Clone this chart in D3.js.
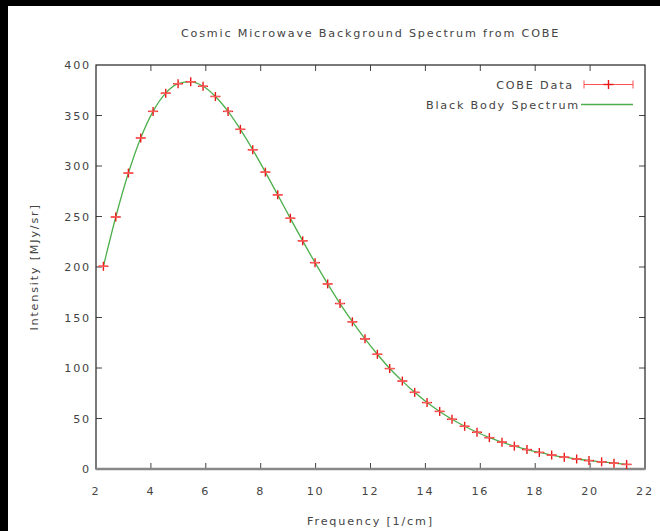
<!DOCTYPE html>
<html>
<head>
<meta charset="utf-8">
<script src="https://cdn.jsdelivr.net/npm/d3@7/dist/d3.min.js"></script>
<style>
  html, body { margin: 0; padding: 0; background: #000; }
  svg { display: block; }
  text { font-family: "DejaVu Sans", sans-serif; font-size: 11.2px; fill: #444; letter-spacing: 1.8px; }
</style>
</head>
<body>
<svg id="chart"></svg>
<script>
// COBE FIRAS data: frequency [1/cm], intensity [MJy/sr]
var freq = [2.27, 2.72, 3.18, 3.63, 4.08, 4.54, 4.99, 5.45, 5.90, 6.35, 6.81, 7.26, 7.71, 8.17, 8.62,
  9.08, 9.53, 9.98, 10.44, 10.89, 11.34, 11.80, 12.25, 12.70, 13.16, 13.61, 14.06, 14.52, 14.97,
  15.43, 15.88, 16.33, 16.79, 17.24, 17.70, 18.15, 18.60, 19.06, 19.51, 19.96, 20.42, 20.87, 21.33];
var intensity = [200.72, 249.51, 293.02, 327.77, 354.08, 372.08, 381.49, 383.48, 378.90, 368.83,
  354.06, 336.28, 316.08, 293.92, 271.43, 248.24, 225.94, 204.33, 183.26, 163.83, 145.75, 128.84,
  113.57, 99.45, 87.04, 75.88, 65.77, 57.01, 49.22, 42.27, 36.35, 31.06, 26.58, 22.64, 19.26,
  16.39, 13.81, 11.72, 9.92, 8.36, 7.09, 5.80, 4.52];
var errors = [0.005, 0.009, 0.015, 0.004, 0.019, 0.012, 0.014, 0.013, 0.007, 0.008, 0.005, 0.004,
  0.005, 0.004, 0.003, 0.003, 0.002, 0.003, 0.003, 0.003, 0.002, 0.002, 0.002, 0.002, 0.002,
  0.002, 0.002, 0.002, 0.002, 0.002, 0.002, 0.001, 0.001, 0.001, 0.001, 0.001, 0.001, 0.001,
  0.001, 0.001, 0.001, 0.001, 0.001];
// black body fit at the same frequencies
var blackBody = [200.7, 249.5, 293.0, 327.8, 354.1, 372.1, 381.5, 383.5, 378.9, 368.8,
  354.1, 336.3, 316.1, 293.9, 271.4, 248.2, 225.9, 204.3, 183.3, 163.8, 145.8, 128.8,
  113.6, 99.5, 87.0, 75.9, 65.8, 57.0, 49.2, 42.3, 36.4, 31.1, 26.6, 22.6, 19.3,
  16.4, 13.8, 11.7, 9.9, 8.4, 7.1, 5.8, 4.5];
var xTicks = [2, 4, 6, 8, 10, 12, 14, 16, 18, 20, 22];
var yTicks = [0, 50, 100, 150, 200, 250, 300, 350, 400];

var W = 660, H = 531;
var margin = { top: 65, right: 15, bottom: 62, left: 96 },
  width = W - margin.left - margin.right,
  height = H - margin.top - margin.bottom;

var root = d3.select("#chart").attr("width", W).attr("height", H);
root.append("rect").attr("x", 8).attr("y", 6).attr("width", W - 8).attr("height", H - 6).attr("fill", "#fff");

var svg = root.append("g").attr("transform", "translate(" + margin.left + "," + margin.top + ")");

var x = d3.scaleLinear().domain([2, 22]).range([0, width]);
var y = d3.scaleLinear().domain([0, 400]).range([height, 0]);

// ticks inward on all four sides
var tk = 6;
svg.append("g").selectAll("line.xt").data(xTicks.slice(1, -1)).enter().append("line")
  .attr("x1", d => x(d)).attr("x2", d => x(d)).attr("y1", height).attr("y2", height - tk)
  .attr("stroke", "#444");
svg.append("g").selectAll("line.xt2").data(xTicks.slice(1, -1)).enter().append("line")
  .attr("x1", d => x(d)).attr("x2", d => x(d)).attr("y1", 0).attr("y2", tk)
  .attr("stroke", "#444");
svg.append("g").selectAll("line.yt").data(yTicks.slice(1, -1)).enter().append("line")
  .attr("x1", 0).attr("x2", tk).attr("y1", d => y(d)).attr("y2", d => y(d))
  .attr("stroke", "#444");
svg.append("g").selectAll("line.yt2").data(yTicks.slice(1, -1)).enter().append("line")
  .attr("x1", width).attr("x2", width - tk).attr("y1", d => y(d)).attr("y2", d => y(d))
  .attr("stroke", "#444");

// tick labels
svg.append("g").selectAll("text").data(xTicks).enter().append("text")
  .attr("x", d => x(d)).attr("y", height + 26).attr("text-anchor", "middle")
  .text(d => d);
svg.append("g").selectAll("text").data(yTicks).enter().append("text")
  .attr("x", -5).attr("y", d => y(d) + 4).attr("text-anchor", "end")
  .text(d => d);

// frame
svg.append("rect").attr("width", width).attr("height", height)
  .attr("fill", "none").attr("stroke", "#222").attr("stroke-width", 1.2);
svg.append("line").attr("x1", 0).attr("x2", width).attr("y1", y(0)).attr("y2", y(0))
  .attr("stroke", "#888").attr("stroke-width", 2.5);

// black body line
var line = d3.line().x((d, i) => x(freq[i])).y(d => y(d)).curve(d3.curveMonotoneX);
svg.append("path").datum(blackBody).attr("d", line)
  .attr("fill", "none").attr("stroke", "#4caf4c").attr("stroke-width", 1.3);

// data points with error bars
var red = "#e81818";
var pts = svg.append("g").selectAll("g").data(intensity).enter().append("g")
  .attr("transform", (d, i) => "translate(" + x(freq[i]) + "," + y(d) + ")");
pts.append("line").attr("x1", -5).attr("x2", 5).attr("y1", 0).attr("y2", 0)
  .attr("stroke", red).attr("stroke-width", 1.4);
pts.append("line").attr("x1", 0).attr("x2", 0).attr("y1", -4.5).attr("y2", 4.5)
  .attr("stroke", red).attr("stroke-width", 1.4);
pts.append("path")
  .attr("d", (d, i) => {
    var e = y(d - errors[i]) - y(d);
    return "M-4," + (-e) + "H4M-4," + e + "H4M0," + (-e) + "V" + e;
  })
  .attr("stroke", "#ff6060").attr("stroke-width", 1).attr("fill", "none");

// legend
var lg = root.append("g");
lg.append("text").attr("x", 574).attr("y", 88.5).attr("text-anchor", "end").text("COBE Data");
lg.append("line").attr("x1", 584).attr("x2", 633).attr("y1", 84.5).attr("y2", 84.5).attr("stroke", "#ff5050");
lg.append("line").attr("x1", 584).attr("x2", 584).attr("y1", 80.5).attr("y2", 88.5).attr("stroke", "#ff5050");
lg.append("line").attr("x1", 633).attr("x2", 633).attr("y1", 80.5).attr("y2", 88.5).attr("stroke", "#ff5050");
lg.append("line").attr("x1", 603.5).attr("x2", 613.5).attr("y1", 84.5).attr("y2", 84.5).attr("stroke", red).attr("stroke-width", 1.4);
lg.append("line").attr("x1", 608.5).attr("x2", 608.5).attr("y1", 80).attr("y2", 89).attr("stroke", red).attr("stroke-width", 1.4);
lg.append("text").attr("x", 580).attr("y", 108.5).attr("text-anchor", "end").text("Black Body Spectrum");
lg.append("line").attr("x1", 581).attr("x2", 633).attr("y1", 104.5).attr("y2", 104.5).attr("stroke", "#4caf4c").attr("stroke-width", 1.3);

// title and axis labels
root.append("text").attr("x", margin.left + width / 2).attr("y", 37).attr("text-anchor", "middle")
  .text("Cosmic Microwave Background Spectrum from COBE");
root.append("text").attr("x", margin.left + width / 2).attr("y", 525).attr("text-anchor", "middle")
  .text("Frequency [1/cm]");
root.append("text").attr("transform", "translate(38," + (margin.top + height / 2) + ") rotate(-90)")
  .attr("text-anchor", "middle").text("Intensity [MJy/sr]");
</script>
</body>
</html>
